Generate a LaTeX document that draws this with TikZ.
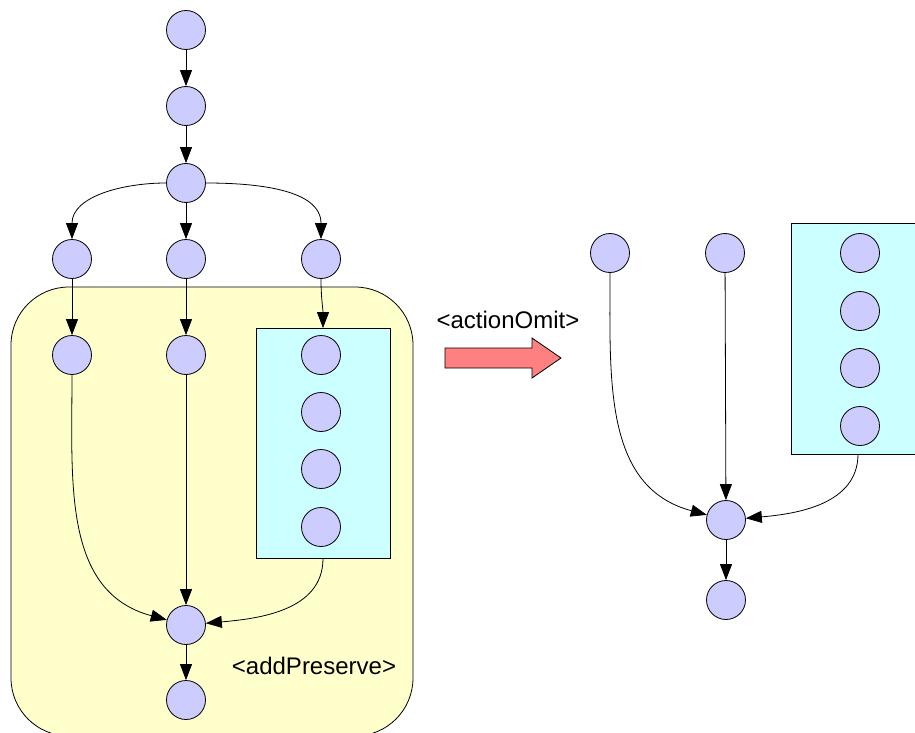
\documentclass[tikz,border=0pt]{standalone}
\usepackage{fontspec}
\setmainfont{Liberation Sans}
\usetikzlibrary{arrows.meta}
\definecolor{nodefill}{RGB}{204,204,255}
\definecolor{scopefill}{RGB}{255,255,204}
\definecolor{groupfill}{RGB}{204,255,255}
\definecolor{arrowfill}{RGB}{255,128,128}
\tikzset{
  vtx/.style={circle,draw=black,fill=nodefill,line width=0.8pt,minimum size=39pt,inner sep=0pt},
  grp/.style={rectangle,draw=black,fill=groupfill,line width=0.8pt,inner sep=0pt},
  flow/.style={draw=black,line width=0.8pt,-{Triangle[length=16pt,width=12pt]}},
  lbl/.style={font=\fontsize{24}{28}\selectfont,inner sep=0pt}
}
\begin{document}
\begin{tikzpicture}[x=1pt,y=-1pt]
\useasboundingbox (0,0) rectangle (915,733);
\begin{scope}
\clip (0,0) rectangle (915,733);
% preserved region
\draw[fill=scopefill,line width=0.8pt,rounded corners=58pt] (11,287) rectangle (413,736);
% grouped nodes
\node[grp,minimum width=134pt,minimum height=230pt] (lbox) at (323,443.5) {};
\node[grp,minimum width=140pt,minimum height=231pt] (rbox) at (861,338.5) {};
\end{scope}

% left graph
\node[vtx] (n1) at (186,30) {};
\node[vtx] (n2) at (186,106) {};
\node[vtx] (n3) at (186,183) {};
\node[vtx] (a1) at (72,259) {};
\node[vtx] (a2) at (186,259) {};
\node[vtx] (a3) at (321,259) {};
\node[vtx] (b1) at (72,355) {};
\node[vtx] (b2) at (186,355) {};
\node[vtx] (g1) at (321,355) {};
\node[vtx] (g2) at (321,412) {};
\node[vtx] (g3) at (321,469) {};
\node[vtx] (g4) at (321,527) {};
\node[vtx] (m) at (186,625) {};
\node[vtx] (p) at (186,700) {};
\coordinate (lout) at (323,558.5);

\draw[flow] (n1) -- (n2);
\draw[flow] (n2) -- (n3);
\draw[flow] (n3) to[out=180,in=90] (a1);
\draw[flow] (n3) -- (a2);
\draw[flow] (n3) to[out=0,in=90] (a3);
\draw[flow] (a1) -- (b1);
\draw[flow] (a2) -- (b2);
\draw[flow] (a3.south) to[out=-90,in=90] (lbox.north);
\draw[flow] (b1) to[out=-90,in=165,looseness=1.05] (m);
\draw[flow] (b2) -- (m);
\draw[flow] (lout) to[out=-90,in=5] (m);
\draw[flow] (m) -- (p);
\node[lbl] (pres) at (314,666) {<addPreserve>};

% transformation arrow
\node[lbl] (omit) at (508,320) {<actionOmit>};
\draw[fill=arrowfill,line width=0.8pt] (445,348) -- (532,348) -- (532,338) -- (561,358)
  -- (532,378) -- (532,368) -- (445,368) -- cycle;

% right graph
\node[vtx] (r1) at (610,253) {};
\node[vtx] (r2) at (725,253) {};
\node[vtx] (h1) at (860,253) {};
\node[vtx] (h2) at (860,311) {};
\node[vtx] (h3) at (860,368) {};
\node[vtx] (h4) at (860,426) {};
\node[vtx] (rm) at (726,520) {};
\node[vtx] (rp) at (726,600) {};
\coordinate (rout) at (858,454);

\draw[flow] (r1) to[out=-90,in=165,looseness=1.05] (rm);
\draw[flow] (r2) -- (rm);
\draw[flow] (rout) to[out=-90,in=5] (rm);
\draw[flow] (rm) -- (rp);
\end{tikzpicture}
\end{document}
